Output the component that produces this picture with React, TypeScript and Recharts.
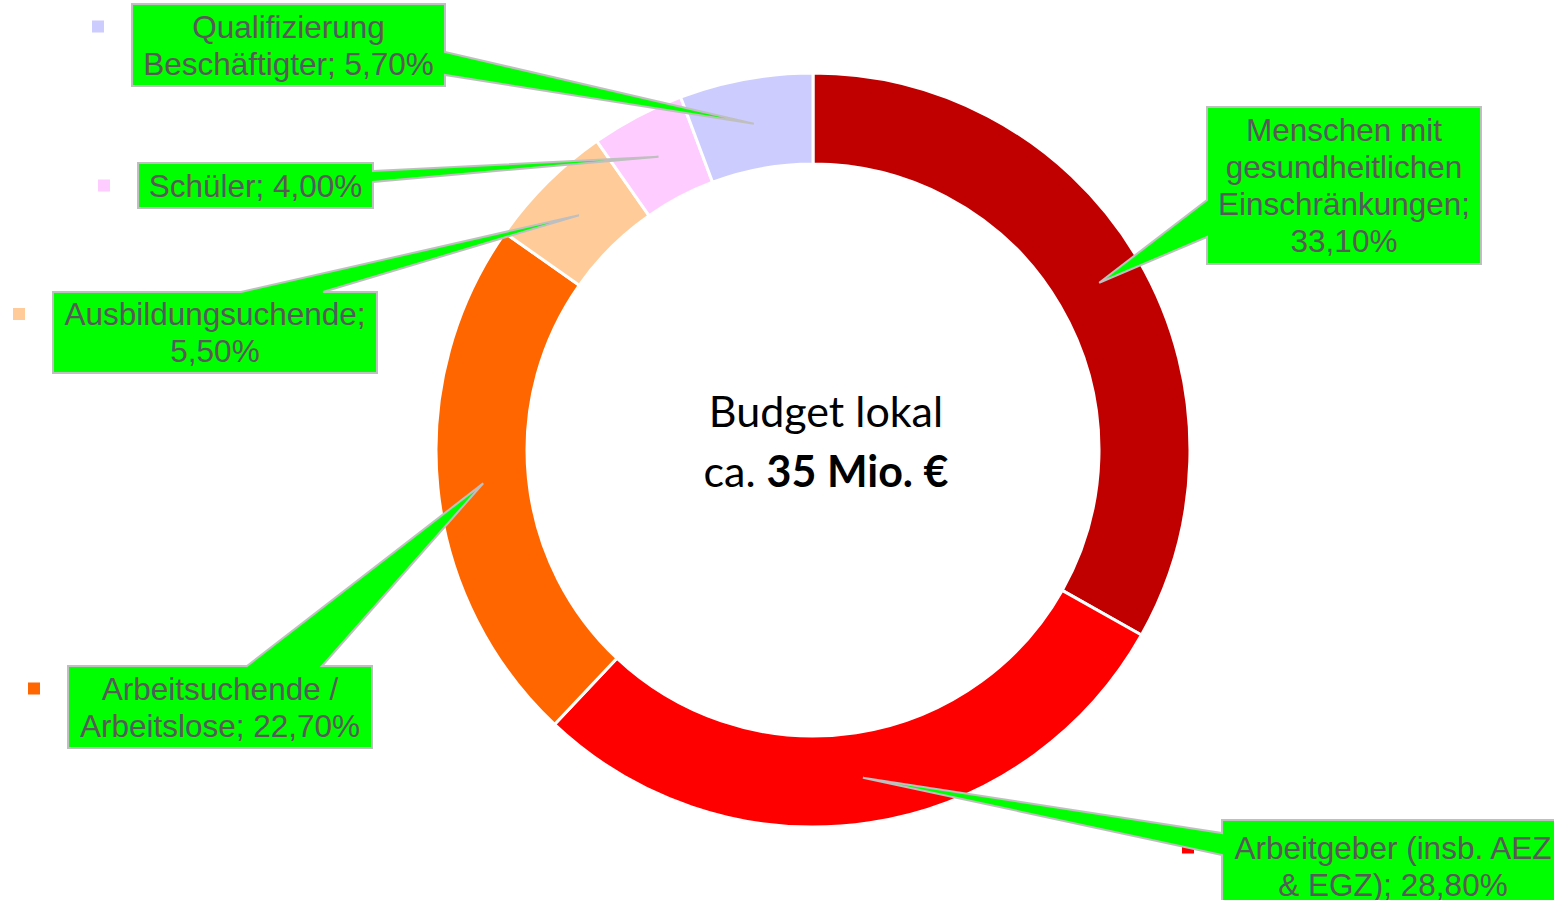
import { PieChart, Pie, Cell } from 'recharts'

const categories = [
  'Menschen mit gesundheitlichen Einschränkungen',
  'Arbeitgeber (insb. AEZ & EGZ)',
  'Arbeitsuchende / Arbeitslose',
  'Ausbildungsuchende',
  'Schüler',
  'Qualifizierung Beschäftigter',
]
const shares = [33.1, 28.8, 22.7, 5.5, 4.0, 5.7]
const labelLines = [
  ['Menschen mit', 'gesundheitlichen', 'Einschränkungen;', '33,10%'],
  ['Arbeitgeber (insb. AEZ', '& EGZ); 28,80%'],
  ['Arbeitsuchende /', 'Arbeitslose; 22,70%'],
  ['Ausbildungsuchende;', '5,50%'],
  ['Schüler; 4,00%'],
  ['Qualifizierung', 'Beschäftigter; 5,70%'],
]
const centerTitle = 'Budget lokal'
const centerPrefix = 'ca. '
const centerValue = '35 Mio. €'
const colors = ['#C00000', '#FF0000', '#FF6600', '#FFCC99', '#FFCCFF', '#CCCCFF']

const chartData = categories.map((name, i) => ({ name, value: shares[i] }))

// callout boxes: where each label sits and where its pointer leaves the box
const boxes = [
  { x: 1207, y: 107, w: 274, h: 157, side: 'left', b1: 200, b2: 237, marker: false },
  { x: 1222, y: 820, w: 342, h: 92, side: 'left', b1: 833, b2: 855, marker: true },
  { x: 68, y: 666, w: 304, h: 82, side: 'top', b1: 247, b2: 322, marker: true },
  { x: 53, y: 292, w: 324, h: 81, side: 'top', b1: 241, b2: 323, marker: true },
  { x: 138, y: 163, w: 235, h: 45, side: 'right', b1: 171, b2: 182, marker: true },
  { x: 132, y: 4, w: 313, h: 82, side: 'right', b1: 52, b2: 75, marker: true },
]

const RADIAN = Math.PI / 180
const LINE_H = 37

// eslint-disable-next-line @typescript-eslint/no-explicit-any
function CalloutLabel(props: any) {
  const { cx, cy, midAngle, innerRadius, outerRadius, index } = props
  const r = (innerRadius + outerRadius) / 2
  const tx = cx + r * Math.cos(-midAngle * RADIAN)
  const ty = cy + r * Math.sin(-midAngle * RADIAN)
  const b = boxes[index]
  const { x, y, w, h, b1, b2 } = b
  let d = ''
  if (b.side === 'right') {
    d = `M${x},${y} L${x + w},${y} L${x + w},${b1} L${tx},${ty} L${x + w},${b2} L${x + w},${y + h} L${x},${y + h} Z`
  } else if (b.side === 'top') {
    d = `M${x},${y} L${b1},${y} L${tx},${ty} L${b2},${y} L${x + w},${y} L${x + w},${y + h} L${x},${y + h} Z`
  } else {
    d = `M${x},${y} L${x + w},${y} L${x + w},${y + h} L${x},${y + h} L${x},${b2} L${tx},${ty} L${x},${b1} Z`
  }
  const lines = labelLines[index]
  const mid = x + w / 2
  const firstY = y + h / 2 - ((lines.length - 1) * LINE_H) / 2
  return (
    <g>
      {index === 0 && (
        <text
          x={cx + 13}
          y={cy}
          textAnchor="middle"
          fill="#000"
          fontFamily="Lato, 'Open Sans', sans-serif"
          fontSize={43}
        >
          <tspan x={cx + 13} dy={-23}>{centerTitle}</tspan>
          <tspan x={cx + 13} dy={60}>
            {centerPrefix}
            <tspan fontWeight="bold">{centerValue}</tspan>
          </tspan>
        </text>
      )}
      {b.marker && (
        <rect x={x - 40} y={firstY - 6} width={12} height={12} fill={colors[index]} />
      )}
      <path d={d} fill="#00FF00" stroke="#BFBFBF" strokeWidth={2} strokeLinejoin="miter" />
      <text
        x={mid}
        y={firstY}
        textAnchor="middle"
        dominantBaseline="central"
        fill="#595959"
        fontFamily="'Liberation Sans', Arial, sans-serif"
        fontSize={31.5}
      >
        {lines.map((line, i) => (
          <tspan key={i} x={mid} dy={i === 0 ? 0 : LINE_H}>
            {line}
          </tspan>
        ))}
      </text>
    </g>
  )
}

export default function App() {
  return (
    <div style={{ position: 'absolute', left: 0, top: 0, width: 1554, height: 900, background: '#fff', overflow: 'hidden' }}>
      <PieChart width={1554} height={900} margin={{ top: 0, right: 0, bottom: 0, left: 0 }}>
        <Pie
          data={chartData}
          dataKey="value"
          nameKey="name"
          cx={813}
          cy={450}
          innerRadius={286}
          outerRadius={377}
          startAngle={90}
          endAngle={-270}
          stroke="#FFFFFF"
          strokeWidth={3}
          label={CalloutLabel}
          labelLine={false}
          isAnimationActive={false}
        >
          {chartData.map((_, i) => (
            <Cell key={i} fill={colors[i]} />
          ))}
        </Pie>
      </PieChart>
    </div>
  )
}
